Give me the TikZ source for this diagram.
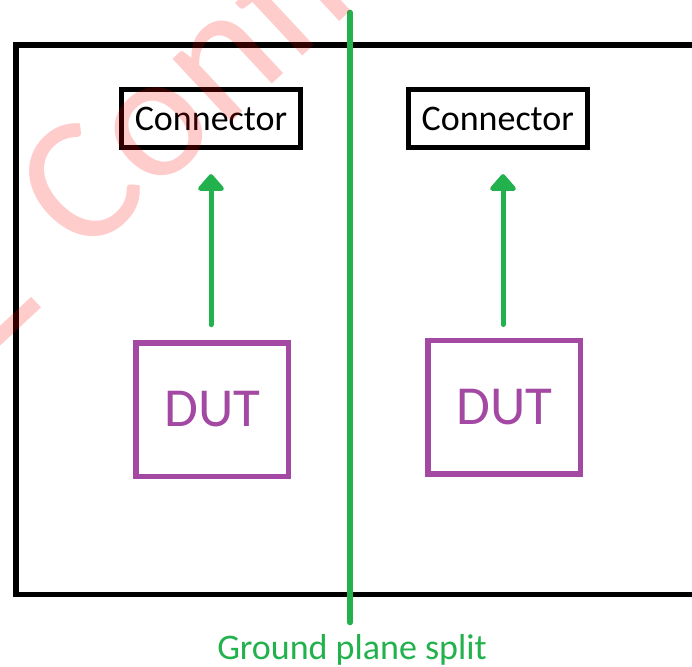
\documentclass[tikz,border=0pt]{standalone}
\usepackage{fontspec}
\setmainfont{Carlito}
\usetikzlibrary{arrows.meta,calc}

\definecolor{splitgreen}{RGB}{34,177,76}
\definecolor{dutpurple}{RGB}{163,73,164}

\tikzset{
  boardline/.style={draw=black, line width=5.5pt},
  connbox/.style={draw=black, line width=5pt, minimum width=179pt, minimum height=57.5pt,
    inner sep=0pt, font=\fontsize{36}{40}\selectfont},
  dutbox/.style={draw=dutpurple, text=dutpurple, line width=5.5pt, minimum width=152.5pt,
    minimum height=133.5pt, inner sep=0pt, font=\fontsize{55}{60}\selectfont},
  sigarrow/.style={draw=splitgreen, line width=5pt, line cap=round,
    -{Triangle[length=18pt, width=30pt, round]}},
  splitline/.style={draw=splitgreen, line width=5.5pt, line cap=round},
  splitlabel/.style={text=splitgreen, inner sep=0pt, font=\fontsize{36}{40}\selectfont},
  watermark/.style={text=red, text opacity=0.2, inner sep=0pt,
    font=\fontsize{180}{190}\selectfont}
}

\begin{document}
\begin{tikzpicture}[x=1pt, y=-1pt]
  \useasboundingbox (0,0) rectangle (692,666);
  \clip (0,0) rectangle (692,666);

  % board outline, open to the right
  \draw[boardline] (720,45) -- (15.8,45) -- (15.8,594.5) -- (720,594.5);

  % connectors
  \node[connbox] (c1) at (211,118.7) {Connector};
  \node[connbox] (c2) at (497.8,118.7) {Connector};

  % devices under test
  \node[dutbox] (d1) at (212.4,409.5) {DUT};
  \node[dutbox] (d2) at (504.3,407) {DUT};

  % signal paths
  \draw[sigarrow, shorten <=15.3pt, shorten >=24.2pt] (c1.south |- d1.north) -- (c1.south);
  \draw[sigarrow, shorten <=13pt, shorten >=24.2pt] ($(c2.south |- d2.north)+(5.2,0)$) -- ($(c2.south)+(5.2,0)$);

  % ground plane split
  \node[splitlabel] (gl) at (352,650) {Ground plane split};
  \coordinate (gtop) at (350,12.5);
  \coordinate (gbot) at (350,622.5);
  \draw[splitline] (gtop) -- (gbot);

  % watermark
  \node[watermark, rotate=43, anchor=base west] (wm) at (-22.1,358.8)
    {\rule[-0.03em]{0.45em}{0.08em}\hspace{0.35em}Confidential};
\end{tikzpicture}
\end{document}
